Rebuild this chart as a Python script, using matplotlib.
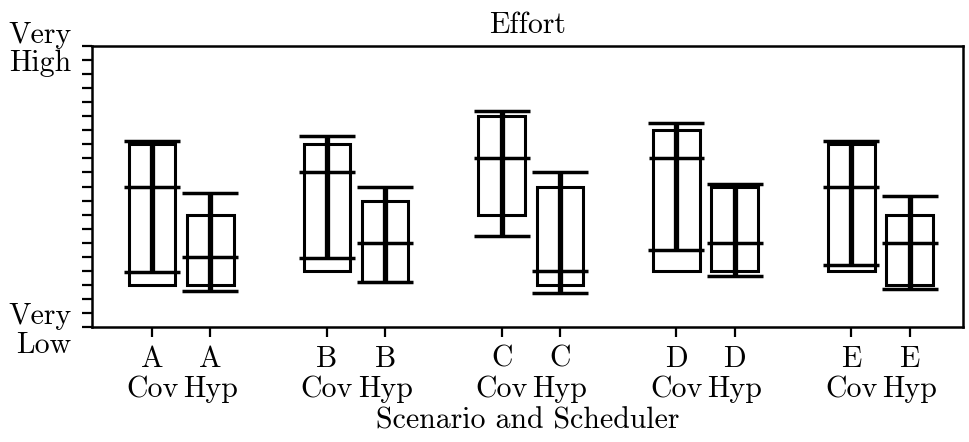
import numpy as np
import matplotlib
matplotlib.use("Agg")
import matplotlib.pyplot as plt

plt.rcParams["font.family"] = "serif"
plt.rcParams["font.serif"] = ["cmr10", "DejaVu Serif"]
plt.rcParams["axes.formatter.use_mathtext"] = True

# NASA-TLX effort (0 = very low, 20 = very high)
scenarios = ["A", "B", "C", "D", "E"]
schedulers = ["Cov", "Hyp"]
positions = [0, 1, 3, 4, 6, 7, 9, 10, 12, 13]

q1 = [3, 3, 4, 3.2, 8, 3, 4, 4, 4, 3]
q3 = [13, 8, 13, 9, 15, 10, 14, 10, 13, 8]
median = [10, 5, 11, 6, 12, 4, 12, 6, 10, 6]
whisk_lo = [3.9, 2.6, 4.9, 3.2, 6.5, 2.45, 5.5, 3.65, 4.4, 2.7]
whisk_hi = [13.25, 9.55, 13.6, 9.95, 15.35, 11.0, 14.55, 10.2, 13.25, 9.35]

labels = [f"{s}\n{k}" for s in scenarios for k in schedulers]

fig, ax = plt.subplots(figsize=(9.69, 4.42), dpi=100)
fig.subplots_adjust(left=0.095, right=0.994, top=0.896, bottom=0.26)

pos = np.array(positions, dtype=float)
q1 = np.array(q1)
q3 = np.array(q3)
ax.bar(pos, q3 - q1, bottom=q1, width=0.8, fill=False, edgecolor="black",
       linewidth=2.2)

centre = (np.array(whisk_lo) + np.array(whisk_hi)) / 2
err = np.array(whisk_hi) - centre
ax.errorbar(pos, centre, yerr=err, fmt="none", ecolor="black",
            elinewidth=3.8, capsize=20, capthick=2.5)
ax.hlines(median, pos - 0.48, pos + 0.48, colors="black", linewidth=2.5)

fs = 21.5
ax.set_xlim(-1.03, 13.92)
ax.set_ylim(0, 20)
ax.set_xticks(positions)
ax.set_xticklabels(labels, fontsize=fs, linespacing=1.15)
ax.set_yticks([0, 20])
ax.set_yticklabels(["Very\nLow", "Very\nHigh"], fontsize=fs, linespacing=1.05)
ax.set_yticks(np.arange(0, 21, 1), minor=True)
ax.tick_params(axis="both", which="both", length=7, width=1.6)
ax.tick_params(axis="y", which="major", pad=8)
ax.tick_params(axis="x", pad=6)

for sp in ax.spines.values():
    sp.set_linewidth(1.8)

ax.set_title("Effort", fontsize=fs, pad=9)
ax.set_xlabel("Scenario and Scheduler", fontsize=fs, labelpad=3)

fig.savefig("out.png", dpi=100)
